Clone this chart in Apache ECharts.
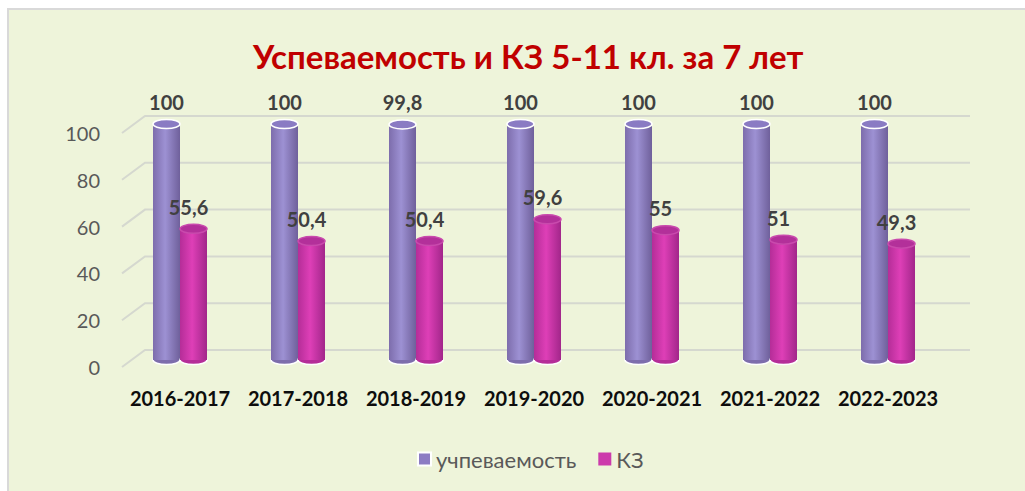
<!DOCTYPE html>
<html>
<head>
<meta charset="utf-8">
<script src="https://cdn.jsdelivr.net/npm/echarts@6/dist/echarts.min.js"></script>
<style>
  body { margin: 0; background: #fff; }
  .panel {
    position: absolute; left: 7px; top: 8px; right: 0; bottom: 0;
    border-left: 2px solid #d9d9d9; border-top: 2px solid #d9d9d9;
    background: #eef4da;
  }
  #chart { position: absolute; left: 0; top: 0; width: 1025px; height: 491px; }
</style>
</head>
<body>
<div class="panel"></div>
<div id="chart"></div>
<script>
  var categories = ['2016-2017', '2017-2018', '2018-2019', '2019-2020', '2020-2021', '2021-2022', '2022-2023']
  var uspev = [100, 100, 99.8, 100, 100, 100, 100]
  var kz = [55.6, 50.4, 50.4, 59.6, 55, 51, 49.3]
  var yTicks = [0, 20, 40, 60, 80, 100]

  var FONT = 'Lato, "Open Sans", sans-serif'

  function fmt(v) {
    return String(v).replace('.', ',')
  }

  // cylinder bar, shifted left/right from category centre
  function cylinder(shift, c, labelDx) {
    return function (params, api) {
      var idx = api.value(0)
      var v = api.value(1)
      var top = api.coord([idx, v])
      var base = api.coord([idx, 0])
      var w = 27
      var cx = top[0] + shift
      var ry = 4.5
      var grad = {
        type: 'linear', x: 0, y: 0, x2: 1, y2: 0,
        colorStops: [
          { offset: 0, color: c.edge },
          { offset: 0.45, color: c.mid },
          { offset: 1, color: c.dark }
        ]
      }
      return {
        type: 'group',
        children: [
          { type: 'ellipse', shape: { cx: cx, cy: base[1], rx: w / 2, ry: ry },
            style: { fill: c.edge, stroke: '#ffffff', lineWidth: 1.5 } },
          { type: 'rect', shape: { x: cx - w / 2, y: top[1], width: w, height: base[1] - top[1] },
            style: { fill: grad } },
          { type: 'ellipse', shape: { cx: cx, cy: top[1], rx: w / 2, ry: ry },
            style: { fill: c.top, stroke: c.rim, lineWidth: 1.5 } },
          { type: 'text',
            style: { text: fmt(v), x: cx + labelDx, y: top[1] - 12, align: 'center', verticalAlign: 'bottom',
              font: 'bold 20px ' + FONT, fill: '#404040' } }
        ]
      }
    }
  }

  // perspective grid: side wall + back wall lines
  function wallLines(params, api) {
    var y = api.coord([0, api.value(1)])[1]
    var cs = params.coordSys
    return {
      type: 'polyline',
      shape: { points: [[cs.x, y], [cs.x + 23, y - 17], [cs.x + cs.width + 23, y - 17]] },
      style: { stroke: '#d5d8cf', lineWidth: 2, fill: null }
    }
  }

  var chart = echarts.init(document.getElementById('chart'), null, { renderer: 'svg' })

  var purple = { edge: '#7d6dac', mid: '#9d91d3', dark: '#6f609b', top: '#8a7bc3', rim: '#ffffff' }
  var pink = { edge: '#b52d98', mid: '#de3fb7', dark: '#a2268a', top: '#b3309a', rim: '#c94aad' }

  var option = {
    backgroundColor: 'transparent',
    animation: false,
    title: {
      text: 'Успеваемость и КЗ 5-11 кл. за 7 лет',
      left: 248,
      top: 34,
      textStyle: { color: '#c00000', fontSize: 33, fontWeight: 'bold', fontFamily: FONT }
    },
    legend: {
      data: ['учпеваемость', 'КЗ'],
      left: 412,
      top: 443,
      icon: 'rect',
      itemWidth: 13,
      itemHeight: 13,
      itemGap: 22,
      textStyle: { color: '#595959', fontSize: 22, fontFamily: FONT }
    },
    grid: [
      { left: 121, right: 78, top: 124, bottom: 131 },
      { left: 122, right: 78, top: 133, bottom: 124 }
    ],
    xAxis: [
      {
        type: 'category', gridIndex: 0, data: categories,
        axisLine: { show: false }, axisTick: { show: false },
        axisLabel: { interval: 0, margin: 28, color: '#0d0d0d', fontSize: 20, fontWeight: 'bold', fontFamily: FONT }
      },
      {
        type: 'category', gridIndex: 1, data: categories, show: false
      }
    ],
    yAxis: [
      { type: 'value', gridIndex: 0, min: 0, max: 100, interval: 20, show: false },
      {
        type: 'value', gridIndex: 1, min: 0, max: 100, interval: 20,
        axisLine: { show: false }, axisTick: { show: false }, splitLine: { show: false },
        axisLabel: { margin: 22, color: '#595959', fontSize: 20, fontFamily: FONT }
      }
    ],
    series: [
      {
        name: 'walls', type: 'custom', xAxisIndex: 1, yAxisIndex: 1, z: 1,
        renderItem: wallLines,
        data: yTicks.map(function (t) { return [0, t] }),
        silent: true
      },
      {
        name: 'учпеваемость', type: 'custom', xAxisIndex: 0, yAxisIndex: 0, z: 2,
        itemStyle: { color: '#8c7cc3', borderColor: '#ffffff', borderWidth: 1 },
        renderItem: cylinder(-13.5, purple, 0),
        data: uspev.map(function (v, i) { return [i, v] })
      },
      {
        name: 'КЗ', type: 'custom', xAxisIndex: 0, yAxisIndex: 0, z: 3,
        itemStyle: { color: '#cc3aab' },
        renderItem: cylinder(13.5, pink, -5),
        data: kz.map(function (v, i) { return [i, v] })
      }
    ]
  }

  chart.setOption(option)
</script>
</body>
</html>
